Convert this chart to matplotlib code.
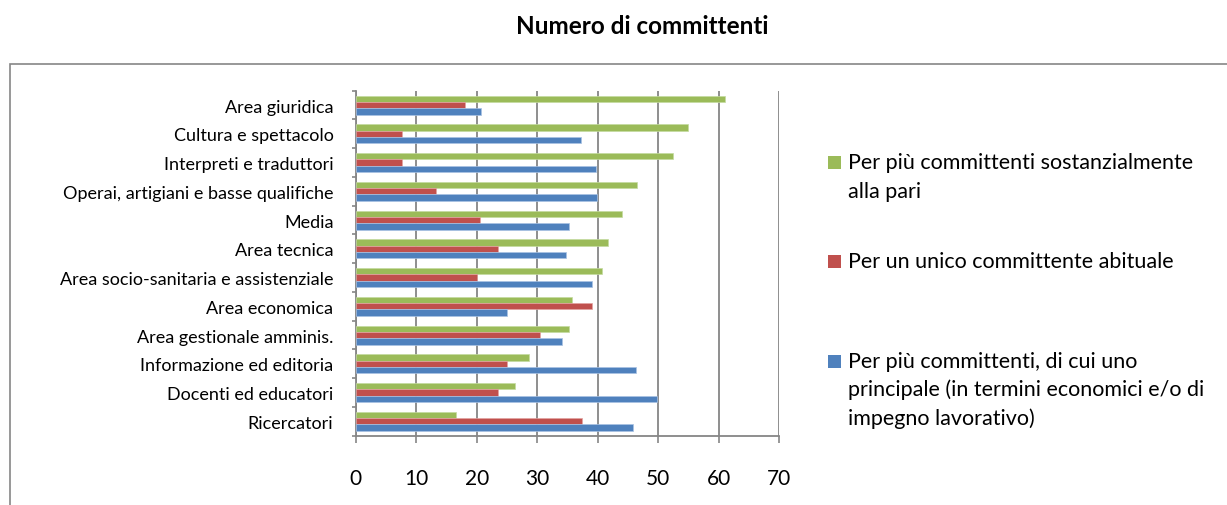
import matplotlib
matplotlib.use("Agg")
import matplotlib.pyplot as plt
import numpy as np
from matplotlib.patches import Rectangle

# categories, top to bottom as in the chart
categories = [
    "Area giuridica",
    "Cultura e spettacolo",
    "Interpreti e traduttori",
    "Operai, artigiani e basse qualifiche",
    "Media",
    "Area tecnica",
    "Area socio-sanitaria e assistenziale",
    "Area economica",
    "Area gestionale amminis.",
    "Informazione ed editoria",
    "Docenti ed educatori",
    "Ricercatori",
]
pari = [61.1, 54.9, 52.4, 46.6, 44.1, 41.7, 40.8, 35.7, 35.2, 28.7, 26.3, 16.6]
unico = [18.1, 7.7, 7.6, 13.2, 20.6, 23.6, 20.0, 39.1, 30.4, 25.0, 23.6, 37.4]
principale = [20.8, 37.3, 39.8, 39.9, 35.2, 34.7, 39.0, 25.0, 34.1, 46.3, 49.9, 45.8]

labels = [
    "Per più committenti sostanzialmente\nalla pari",
    "Per un unico committente abituale",
    "Per più committenti, di cui uno\nprincipale (in termini economici e/o di\nimpegno lavorativo)",
]
xticks = [0, 10, 20, 30, 40, 50, 60, 70]

GREEN = "#9BBB59"
RED = "#C0504D"
BLUE = "#4F81BD"
GRAY = "#868686"

plt.rcParams["font.family"] = ["Lato", "DejaVu Sans"]

W, H = 1227, 506
fig = plt.figure(figsize=(W / 100, H / 100), dpi=100)

# outer chart border (cut off at right/bottom like the reference)
fig.patches.append(Rectangle((10 / W, -0.1), 1.2, (H - 64.5) / H + 0.1,
                             transform=fig.transFigure, fill=False,
                             edgecolor=GRAY, linewidth=1.2))

fig.text(642 / W, 1 - 27 / H, "Numero di committenti", ha="center", va="center",
         fontsize=17.5, fontweight="bold")

ax = fig.add_axes([355.7 / W, 1 - 436.7 / H, (779 - 355.7) / W, (436.7 - 91.7) / H])

n = len(categories)
y = np.arange(n)[::-1].astype(float)
h = 0.22
ax.barh(y + h, pari, height=h, color=GREEN, edgecolor="#c4dba0", linewidth=0.5, zorder=3)
ax.barh(y, unico, height=h, color=RED, edgecolor="#e3a3a1", linewidth=0.5, zorder=3)
ax.barh(y - h, principale, height=h, color=BLUE, edgecolor="#a9c2e3", linewidth=0.5, zorder=3)

ax.set_xlim(0, 70)
ax.set_ylim(-0.5, n - 0.5)
ax.set_xticks(xticks)
ax.set_xticklabels([str(t) for t in xticks], fontsize=15)
ax.set_yticks(y)
ax.set_yticklabels(categories, fontsize=13)
ax.set_yticks(np.arange(n + 1) - 0.5, minor=True)
ax.tick_params(axis="y", which="major", length=0, pad=16)
ax.tick_params(axis="y", which="minor", length=3, color=GRAY, width=1.2)
ax.tick_params(axis="x", length=5, color=GRAY, width=1.2, pad=18)

ax.grid(axis="x", color=GRAY, linewidth=1.3, zorder=0)
for s in ["top", "right"]:
    ax.spines[s].set_visible(False)
for s in ["left", "bottom"]:
    ax.spines[s].set_color(GRAY)
    ax.spines[s].set_linewidth(1.3)

# legend drawn by hand to match the uneven spacing of the original
leg_base = [169, 268, 368]
line_step = 28.5
for col, lab, base in zip([GREEN, RED, BLUE], labels, leg_base):
    fig.patches.append(Rectangle((828 / W, 1 - (base + 1) / H), 13 / W, 13 / H,
                                 transform=fig.transFigure, facecolor=col,
                                 edgecolor="none"))
    for i, line in enumerate(lab.split("\n")):
        fig.text(848 / W, 1 - (base + i * line_step) / H, line, ha="left",
                 va="baseline", fontsize=15.5)

fig.savefig("out.png", dpi=100)
